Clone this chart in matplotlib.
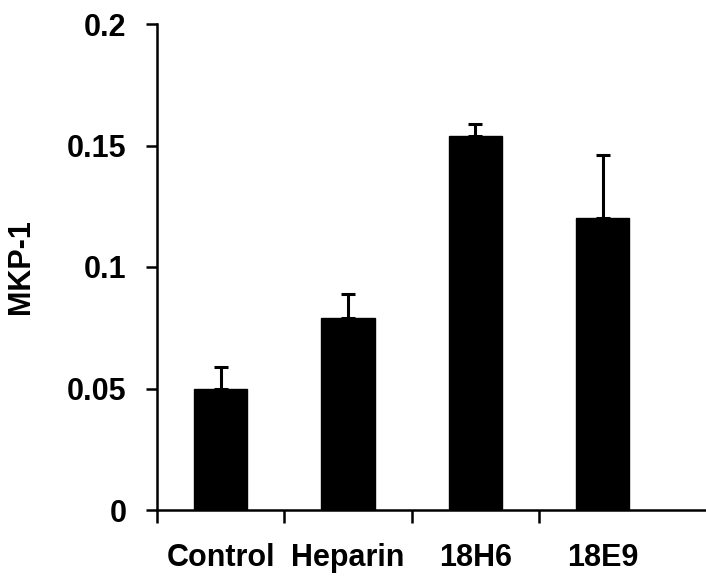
import matplotlib
matplotlib.use("Agg")
import matplotlib.pyplot as plt
import numpy as np

categories = ["Control", "Heparin", "18H6", "18E9"]
values = [0.050, 0.079, 0.154, 0.120]
errors = [0.009, 0.010, 0.005, 0.026]
yticks = [0, 0.05, 0.1, 0.15, 0.2]
ytick_labels = ["0", "0.05", "0.1", "0.15", "0.2"]

plt.rcParams['font.family'] = ['Liberation Sans', 'DejaVu Sans']
plt.rcParams['font.weight'] = 'bold'

W, H = 706, 585
fig = plt.figure(figsize=(W / 100, H / 100), dpi=100)
x0, x1 = 157, 706
y0, y1 = 510, 24
ax = fig.add_axes([x0 / W, (H - y0) / H, (x1 - x0) / W, (y0 - y1) / H])

cat_w = 127.3
xmax = -0.5 + (x1 - x0) / cat_w
x = np.arange(len(categories))
ax.bar(x, values, width=0.42, color='black', edgecolor='black', zorder=2)
ax.errorbar(x, values, yerr=[np.zeros(len(errors)), errors], fmt='none',
            ecolor='black', elinewidth=2.2, capsize=5, capthick=2.2, zorder=3)

ax.set_xlim(-0.5, xmax)
ax.set_ylim(0, 0.2)
for s in ['top', 'right']:
    ax.spines[s].set_visible(False)
for s in ['left', 'bottom']:
    ax.spines[s].set_linewidth(1.8)

fs = 22
ax.set_yticks(yticks)
ax.set_yticklabels(ytick_labels, fontsize=fs, fontweight='bold')
ax.tick_params(axis='y', direction='out', length=8, width=1.8, pad=14)

ax.set_xticks(x)
ax.set_xticklabels(categories, fontsize=fs, fontweight='bold')
ax.tick_params(axis='x', which='major', length=0, pad=24)
ax.set_xticks([-0.5, 0.5, 1.5, 2.5], minor=True)
ax.tick_params(axis='x', which='minor', direction='out', length=9, width=1.8)

ax.set_ylabel("MKP-1", fontsize=fs, fontweight='bold', labelpad=22)

fig.savefig("out.png", dpi=100)
